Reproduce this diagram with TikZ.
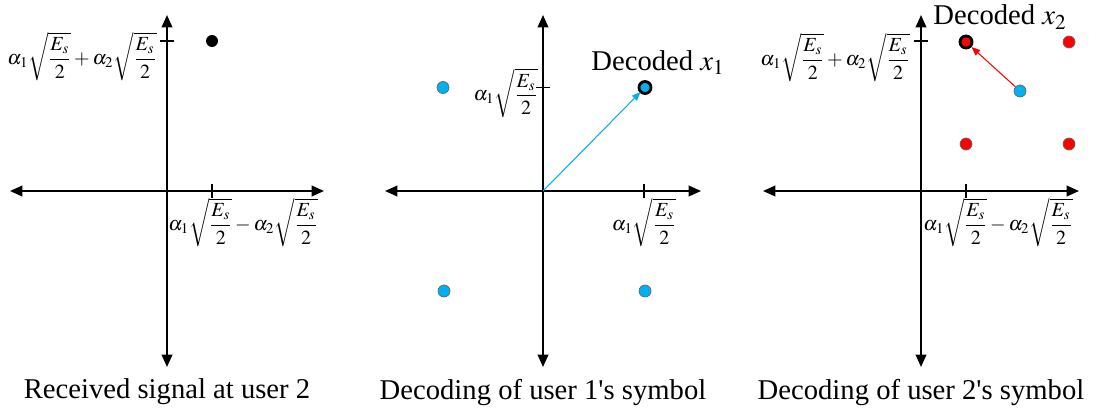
\documentclass[tikz,border=0pt]{standalone}
\usepackage{amsmath}
\usepackage{mathptmx}
\usepackage[no-math]{fontspec}
\setmainfont{Liberation Serif}
\usepackage{tikz}
\usepackage{xcolor}
\usetikzlibrary{positioning, arrows.meta, calc}

\definecolor{symblue}{RGB}{0,176,240}
\definecolor{symred}{RGB}{255,0,0}
\newcommand{\ampl}[1]{\alpha_{#1}\sqrt{\dfrac{E_s}{2}}}

\begin{document}
\begin{tikzpicture}[
                font=\rmfamily\fontsize{16.3}{19}\selectfont,
                axis/.style={{Triangle[length=7pt, width=6pt]}-{Triangle[length=7pt, width=6pt]}, line width=1.1pt},
                tickmark/.style={line width=1.1pt},
                dot/.style={circle, inner sep=0pt, minimum size=0.24cm},
                bluedot/.style={dot, fill=symblue, draw=black!60, line width=0.4pt},
                reddot/.style={dot, fill=symred, draw=black!60, line width=0.4pt},
                chosen/.style={draw=black, line width=1.6pt},
                decide/.style={-{Triangle[length=5pt, width=4pt]}, line width=0.6pt},
                ticklabel/.style={inner sep=0pt, font=\fontsize{11.4}{14}\selectfont},
                caption/.style={inner sep=0pt}
            ]
                \useasboundingbox (0,0) rectangle (21.98,-8.2);

                % Received signal at user 2
                \coordinate (O1) at (3.34,-3.82);
                \coordinate (L1) at ($(O1)+(-3.14,0)$);
                \coordinate (R1) at ($(O1)+(3.14,0)$);
                \coordinate (T1) at ($(O1)+(0,3.52)$);
                \coordinate (B1) at ($(O1)+(0,-3.52)$);
                \draw[axis] (L1) -- (R1);
                \draw[axis] (B1) -- (T1);
                \coordinate (xt1) at ($(O1)+(0.9,0)$);
                \coordinate (yt1) at ($(O1)+(0,3.0)$);
                \draw[tickmark] ($(xt1)+(0,0.14)$) -- ($(xt1)+(0,-0.14)$);
                \draw[tickmark] ($(yt1)+(-0.14,0)$) -- ($(yt1)+(0.14,0)$);
                \node[dot, fill=black] (rx) at ($(O1)+(0.9,3.0)$) {};
                \node[ticklabel, anchor=north east] (ylab1) at ($(yt1)+(-0.2,0.18)$) {$\ampl{1}+\ampl{2}$};
                \node[ticklabel, anchor=north west] (xlab1) at ($(O1)+(0.02,-0.14)$) {$\ampl{1}-\ampl{2}$};
                \node[caption] (cap1) at ($(O1)+(0,-4.02)$) {Received signal at user 2};

                % Decoding of user 1's symbol
                \coordinate (O2) at (10.86,-3.82);
                \coordinate (L2) at ($(O2)+(-3.16,0)$);
                \coordinate (R2) at ($(O2)+(3.16,0)$);
                \coordinate (T2) at ($(O2)+(0,3.52)$);
                \coordinate (B2) at ($(O2)+(0,-3.52)$);
                \draw[axis] (L2) -- (R2);
                \draw[axis] (B2) -- (T2);
                \coordinate (xt2) at ($(O2)+(2.02,0)$);
                \coordinate (yt2) at ($(O2)+(0,2.07)$);
                \draw[tickmark] ($(xt2)+(0,0.14)$) -- ($(xt2)+(0,-0.14)$);
                \draw[tickmark] ($(yt2)+(-0.14,0)$) -- ($(yt2)+(0.14,0)$);
                \node[bluedot] (s11) at ($(O2)+(2.04,2.07)$) {};
                \node[bluedot] (s12) at ($(O2)+(-2.0,2.07)$) {};
                \node[bluedot] (s13) at ($(O2)+(-1.98,-2.0)$) {};
                \node[bluedot] (s14) at ($(O2)+(2.04,-2.0)$) {};
                \node[bluedot, chosen] at (s11) {};
                \draw[decide, symblue] (O2) -- (s11);
                \node[ticklabel, anchor=east] (ylab2) at ($(yt2)+(-0.1,-0.11)$) {$\ampl{1}$};
                \node[ticklabel, anchor=north] (xlab2) at ($(xt2)+(0,-0.14)$) {$\ampl{1}$};
                \node[anchor=base] (dec1) at ($(s11)+(0.26,0.34)$) {Decoded $x_1$};
                \node[caption] (cap2) at ($(O2)+(0,-4.02)$) {Decoding of user 1\textquotesingle s symbol};

                % Decoding of user 2's symbol
                \coordinate (O3) at (18.42,-3.82);
                \coordinate (L3) at ($(O3)+(-3.16,0)$);
                \coordinate (R3) at ($(O3)+(3.16,0)$);
                \coordinate (T3) at ($(O3)+(0,3.52)$);
                \coordinate (B3) at ($(O3)+(0,-3.52)$);
                \draw[axis] (L3) -- (R3);
                \draw[axis] (B3) -- (T3);
                \coordinate (xt3) at ($(O3)+(0.9,0)$);
                \coordinate (yt3) at ($(O3)+(0,3.0)$);
                \draw[tickmark] ($(xt3)+(0,0.14)$) -- ($(xt3)+(0,-0.14)$);
                \draw[tickmark] ($(yt3)+(-0.14,0)$) -- ($(yt3)+(0.14,0)$);
                \node[reddot, chosen] (s21) at ($(O3)+(0.9,2.98)$) {};
                \node[reddot] (s22) at ($(O3)+(2.96,2.98)$) {};
                \node[reddot] (s23) at ($(O3)+(0.9,0.94)$) {};
                \node[reddot] (s24) at ($(O3)+(2.96,0.94)$) {};
                \node[bluedot] (u1) at ($(O3)+(1.98,2.0)$) {};
                \draw[decide, symred] (u1) -- (s21);
                \node[ticklabel, anchor=north east] (ylab3) at ($(yt3)+(-0.22,0.16)$) {$\ampl{1}+\ampl{2}$};
                \node[ticklabel, anchor=north west] (xlab3) at ($(O3)+(0.04,-0.14)$) {$\ampl{1}-\ampl{2}$};
                \node[anchor=base] (dec2) at ($(s21)+(0.68,0.34)$) {Decoded $x_2$};
                \node[caption] (cap3) at ($(O3)+(0,-4.02)$) {Decoding of user 2\textquotesingle s symbol};

            \end{tikzpicture}
\end{document}
